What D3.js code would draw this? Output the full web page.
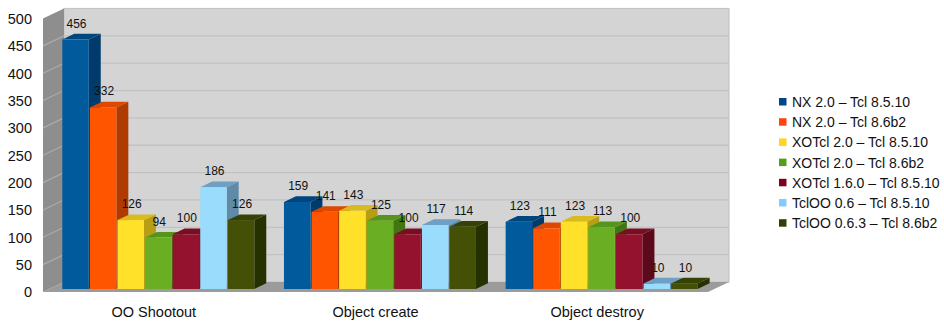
<!DOCTYPE html>
<html>
<head>
<meta charset="utf-8">
<script src="https://cdn.jsdelivr.net/npm/d3@7"></script>
<style>
  body { margin: 0; background: #fff; }
  svg { display: block; font-family: 'Liberation Sans', Arial, sans-serif; }
</style>
</head>
<body>
<script>
const categories = ['OO Shootout', 'Object create', 'Object destroy'];
const seriesNames = [
  'NX 2.0 – Tcl 8.5.10',
  'NX 2.0 – Tcl 8.6b2',
  'XOTcl 2.0 – Tcl 8.5.10',
  'XOTcl 2.0 – Tcl 8.6b2',
  'XOTcl 1.6.0 – Tcl 8.5.10',
  'TclOO 0.6 – Tcl 8.5.10',
  'TclOO 0.6.3 – Tcl 8.6b2',
];
// one array per series, values in category order
const nx20Tcl8510 = [456, 159, 123];
const nx20Tcl86b2 = [332, 141, 111];
const xotcl20Tcl8510 = [126, 143, 123];
const xotcl20Tcl86b2 = [94, 125, 113];
const xotcl160Tcl8510 = [100, 100, 100];
const tcloo06Tcl8510 = [186, 117, 10];
const tcloo063Tcl86b2 = [126, 114, 10];
const seriesValues = [
  nx20Tcl8510, nx20Tcl86b2, xotcl20Tcl8510, xotcl20Tcl86b2,
  xotcl160Tcl8510, tcloo06Tcl8510, tcloo063Tcl86b2,
];
const yTicks = [0, 50, 100, 150, 200, 250, 300, 350, 400, 450, 500];

// legend / base colours, then the shaded faces of the 3d bars
const legendColors = ['#004586', '#ff420e', '#ffd320', '#579d1c', '#7e0021', '#83caff', '#314004'];
const frontColors = ['#005a9b', '#ff5500', '#ffe12a', '#6aaf23', '#94122e', '#9adcfb', '#435005'];
const topColors = ['#00467e', '#dd4700', '#d9bb1e', '#56951b', '#780d24', '#6f9fc2', '#354203'];
const sideColors = ['#003b6b', '#b03a00', '#b89e15', '#427613', '#5c0a1b', '#5f8aa8', '#263102'];

class BarChart3D {
  constructor(svgElement, config) {
    this.config = config;
    this.svg = svgElement
      .attr('width', config.size.width)
      .attr('height', config.size.height);

    this.x = d3
      .scaleBand()
      .domain(categories)
      .range([config.plot.left, config.plot.right]);
    this.xSeries = d3
      .scaleBand()
      .domain(seriesNames)
      .range(config.groupRange)
      .paddingInner(0.04);
    this.y = d3
      .scaleLinear()
      .domain([0, 500])
      .range([config.plot.bottom, config.plot.top]);
  }

  // shift a front-plane point backwards by a fraction of the wall depth
  back(x, y, f) {
    return [x + f * this.config.depth.x, y + f * this.config.depth.y];
  }

  drawWalls() {
    const { plot, depth } = this.config;
    const pts = arr => arr.map(p => p.join(',')).join(' ');

    // back wall
    this.svg.append('rect')
      .attr('x', plot.left + depth.x)
      .attr('y', plot.top + depth.y)
      .attr('width', plot.right - plot.left)
      .attr('height', plot.bottom - plot.top)
      .attr('fill', '#d4d4d4')
      .attr('stroke', '#c4c4c4')
      .attr('stroke-width', 1.2);

    this.svg.append('g')
      .selectAll('line')
      .data(yTicks.slice(1, -1))
      .join('line')
      .attr('x1', plot.left + depth.x)
      .attr('x2', plot.right + depth.x)
      .attr('y1', d => this.y(d) + depth.y)
      .attr('y2', d => this.y(d) + depth.y)
      .attr('stroke', '#c2c2c2')
      .attr('stroke-width', 1.3);

    // left wall
    this.svg.append('polygon')
      .attr('points', pts([
        [plot.left, plot.top], this.back(plot.left, plot.top, 1),
        this.back(plot.left, plot.bottom, 1), [plot.left, plot.bottom],
      ]))
      .attr('fill', '#8e8e8e');

    this.svg.append('g')
      .selectAll('line')
      .data(yTicks.slice(1, -1))
      .join('line')
      .attr('x1', plot.left)
      .attr('y1', d => this.y(d))
      .attr('x2', plot.left + depth.x)
      .attr('y2', d => this.y(d) + depth.y)
      .attr('stroke', '#ababab')
      .attr('stroke-width', 1.2);

    // floor
    this.svg.append('polygon')
      .attr('points', pts([
        [plot.left, plot.bottom], this.back(plot.left, plot.bottom, 1),
        this.back(plot.right, plot.bottom, 1), [plot.right, plot.bottom],
      ]))
      .attr('fill', '#9b9b9b');
  }

  drawAxes() {
    const { plot } = this.config;
    this.svg.append('g')
      .selectAll('text')
      .data(yTicks)
      .join('text')
      .attr('x', plot.left - 11)
      .attr('y', d => this.y(d) + 1.5)
      .attr('text-anchor', 'end')
      .attr('dominant-baseline', 'middle')
      .attr('font-size', 14.5)
      .attr('fill', '#111')
      .text(d => d);

    this.svg.append('g')
      .selectAll('text')
      .data(categories)
      .join('text')
      .attr('x', d => this.x(d) + this.x.bandwidth() / 2)
      .attr('y', 317)
      .attr('text-anchor', 'middle')
      .attr('font-size', 14.5)
      .attr('fill', '#111')
      .text(d => d);
  }

  barGeometry(ci, si) {
    const { f0, f1 } = this.config.bar;
    const { depth } = this.config;
    const [xs, yBot] = this.back(this.x(categories[ci]), this.y(0), f0);
    const x = xs + this.xSeries(seriesNames[si]);
    const yTop = this.y(seriesValues[si][ci]) + f0 * depth.y;
    return {
      x,
      w: this.xSeries.bandwidth(),
      yTop,
      yBot,
      dx: (f1 - f0) * depth.x,
      dy: (f1 - f0) * depth.y,
    };
  }

  drawBars() {
    const cells = [];
    categories.forEach((c, ci) => {
      seriesNames.forEach((s, si) => cells.push({ ci, si, g: this.barGeometry(ci, si) }));
    });
    const pts = arr => arr.map(p => p.join(',')).join(' ');

    const barEnter = this.svg.append('g')
      .selectAll('g.bar')
      .data(cells)
      .join('g')
      .attr('class', 'bar');

    barEnter.append('polygon')
      .attr('points', ({ g }) => pts([
        [g.x + g.w, g.yTop], [g.x + g.w + g.dx, g.yTop + g.dy],
        [g.x + g.w + g.dx, g.yBot + g.dy], [g.x + g.w, g.yBot],
      ]))
      .attr('fill', d => sideColors[d.si]);

    barEnter.append('polygon')
      .attr('points', ({ g }) => pts([
        [g.x, g.yTop], [g.x + g.dx, g.yTop + g.dy],
        [g.x + g.w + g.dx, g.yTop + g.dy], [g.x + g.w, g.yTop],
      ]))
      .attr('fill', d => topColors[d.si]);

    barEnter.append('rect')
      .attr('x', d => d.g.x)
      .attr('y', d => d.g.yTop)
      .attr('width', d => d.g.w)
      .attr('height', d => d.g.yBot - d.g.yTop)
      .attr('fill', d => frontColors[d.si]);

    // value labels go on top of everything
    this.svg.append('g')
      .selectAll('text')
      .data(cells)
      .join('text')
      .attr('x', d => d.g.x + d.g.w / 2 + 1)
      .attr('y', d => d.g.yTop - 12)
      .attr('text-anchor', 'middle')
      .attr('font-size', 12)
      .attr('fill', '#111')
      .text(d => seriesValues[d.si][d.ci]);
  }

  drawLegend() {
    const { legend } = this.config;
    const row = this.svg.append('g')
      .attr('transform', `translate(${legend.x}, ${legend.y})`)
      .selectAll('g')
      .data(seriesNames)
      .join('g')
      .attr('transform', (d, i) => `translate(0, ${i * legend.step})`);

    row.append('rect')
      .attr('x', 0)
      .attr('y', -4)
      .attr('width', 7.5)
      .attr('height', 7.5)
      .attr('fill', (d, i) => legendColors[i]);

    row.append('text')
      .attr('x', 13)
      .attr('y', 5)
      .attr('font-size', 14)
      .attr('fill', '#111')
      .text(d => d);
  }
}

const chartConfig = {
  size: { width: 944, height: 322 },
  plot: { left: 43, right: 708, top: 18.5, bottom: 292 },
  depth: { x: 21, y: -10 },
  bar: { f0: 0.3, f1: 0.87 },
  groupRange: [13, 205],
  legend: { x: 779, y: 102, step: 20.2 },
};

const chart = new BarChart3D(d3.select('body').append('svg'), chartConfig);
chart.drawWalls();
chart.drawAxes();
chart.drawBars();
chart.drawLegend();
</script>
</body>
</html>
